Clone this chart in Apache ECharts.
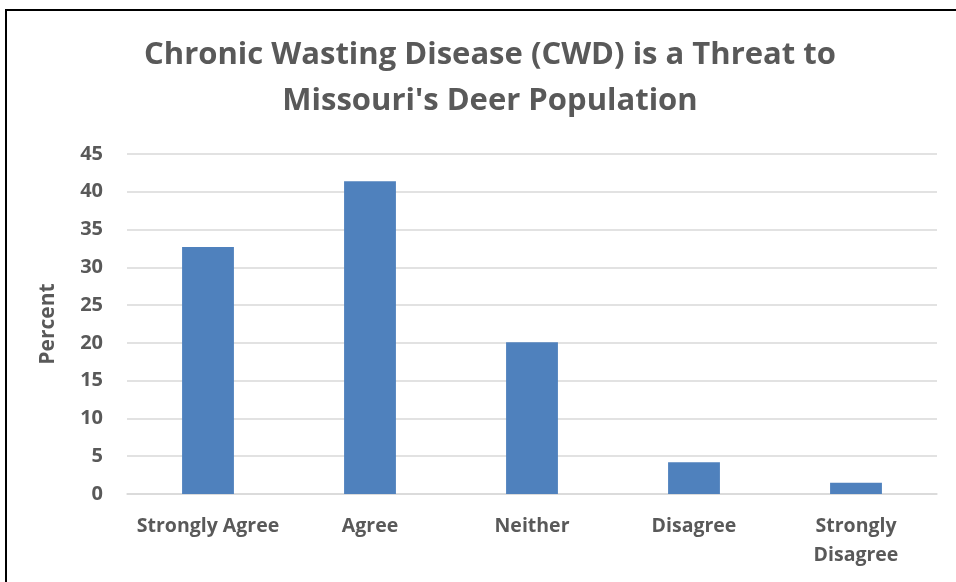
<!DOCTYPE html>
<html><head><meta charset="utf-8">
<script src="https://cdn.jsdelivr.net/npm/echarts@6/dist/echarts.min.js"></script>
<style>
html,body{margin:0;padding:0;background:#fff;}
#frame{position:absolute;left:5px;top:9px;width:951px;height:573px;border-left:2px solid #000;border-top:2px solid #000;box-sizing:border-box;}
#c{position:absolute;left:0;top:0;width:956px;height:582px;}
</style></head>
<body>
<div id="c"></div>
<div id="frame"></div>
<script>
const categories = ['Strongly Agree', 'Agree', 'Neither', 'Disagree', 'Strongly\nDisagree'];
const values = [32.7, 41.4, 20.1, 4.2, 1.5];
const titleText = "Chronic Wasting Disease (CWD) is a Threat to\nMissouri's Deer Population";
const yName = 'Percent';

const chart = echarts.init(document.getElementById('c'));
const font = 'Open Sans';
chart.setOption({
  animation: false,
  title: {
    text: titleText,
    left: 485, top: 27, textAlign: 'center',
    textStyle: { fontFamily: font, fontWeight: 'bold', fontSize: 31, color: '#595959', lineHeight: 46 }
  },
  grid: { left: 127, right: 19, top: 154, bottom: 88, containLabel: false },
  xAxis: {
    type: 'category', data: categories,
    axisLine: { lineStyle: { color: '#d9d9d9', width: 1.5 } },
    axisTick: { show: false },
    axisLabel: { fontFamily: font, fontWeight: 'bold', fontSize: 19.5, color: '#595959', margin: 18, lineHeight: 29, interval: 0 }
  },
  yAxis: {
    type: 'value', min: 0, max: 45, interval: 5,
    name: yName, nameLocation: 'middle', nameGap: 68, nameRotate: 90,
    nameTextStyle: { fontFamily: font, fontWeight: 'bold', fontSize: 21, color: '#595959' },
    axisLine: { show: false }, axisTick: { show: false },
    axisLabel: { fontFamily: font, fontWeight: 'bold', fontSize: 20, color: '#595959', margin: 24 },
    splitLine: { lineStyle: { color: '#d9d9d9', width: 1.5 } }
  },
  series: [{
    type: 'bar', data: values, barWidth: '32%',
    itemStyle: { color: '#4f81bd' }
  }]
});
</script>
</body></html>
